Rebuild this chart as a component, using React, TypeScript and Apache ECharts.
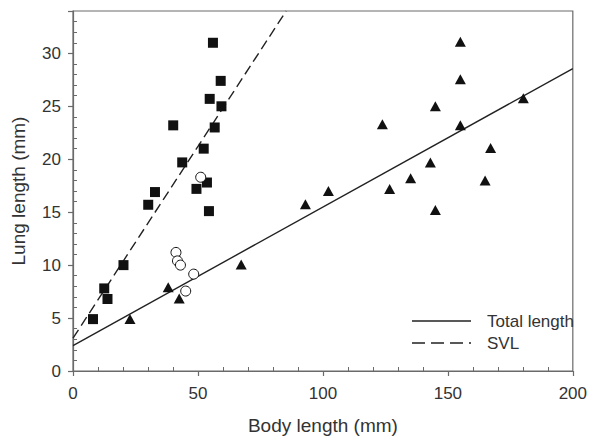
import React, { useEffect, useRef } from "react";
import * as echarts from "echarts";

// Data
const svlPoints: number[][] = [
  [56.0, 31.0], [59.1, 27.4], [54.7, 25.7], [59.4, 25.0], [40.1, 23.2],
  [56.7, 23.0], [52.3, 21.0], [43.7, 19.7], [53.6, 17.8], [49.4, 17.2],
  [32.8, 16.9], [30.1, 15.7], [54.4, 15.1], [20.2, 10.0], [12.5, 7.8],
  [13.8, 6.8], [8.0, 4.9],
];
const openPoints: number[][] = [
  [51.1, 18.3], [41.2, 11.2], [41.8, 10.4], [43.0, 10.0], [48.3, 9.15], [45.1, 7.55],
];
const totalPoints: number[][] = [
  [22.8, 4.9], [38.1, 7.9], [42.5, 6.85], [67.3, 10.05], [93.0, 15.75],
  [102.2, 17.0], [123.8, 23.3], [126.7, 17.2], [135.1, 18.2], [143.0, 19.7],
  [145.0, 25.0], [145.0, 15.2], [155.0, 31.1], [155.0, 27.55], [155.0, 23.2],
  [164.9, 18.0], [167.1, 21.05], [180.2, 25.75],
];
const totalFit: number[][] = [[0, 2.4], [200, 28.56]];
const svlFit: number[][] = [[0, 3.1], [85.3, 34]];

const xStep = 50;
const yStep = 5;
const yMax = 34;

const legendNames = ["Total length", "SVL"];

const FONT = "'Liberation Sans', Arial, sans-serif";
const AXIS = "#6a6a6a";
const TEXT = "#333";
const INK = "#111";

export default function App() {
  const ref = useRef<HTMLDivElement>(null);
  useEffect(() => {
    if (!ref.current) return;
    const chart = echarts.init(ref.current, null, { renderer: "svg" });
    const L = 73, R = 574, T = 11, B = 373;
    chart.setOption({
      animation: false,
      backgroundColor: "#fff",
      grid: {
        left: L, right: 590 - R, top: T, bottom: 440 - B,
        show: true, borderColor: AXIS, borderWidth: 1.2, backgroundColor: "transparent",
      },
      xAxis: {
        type: "value", min: 0, max: 200, interval: xStep, position: "bottom",
        name: "Body length (mm)", nameLocation: "middle", nameGap: 45,
        nameTextStyle: { fontSize: 19, color: TEXT, fontFamily: FONT },
        axisLine: { show: true, lineStyle: { color: AXIS, width: 1.2 } },
        axisTick: { show: true, length: 5, lineStyle: { color: AXIS, width: 1.2 } },
        minorTick: { show: true, splitNumber: 5, length: -4, lineStyle: { color: AXIS, width: 1 } },
        axisLabel: { fontSize: 17, color: TEXT, fontFamily: FONT, margin: 14 },
        splitLine: { show: false },
        minorSplitLine: { show: false },
      },
      yAxis: {
        type: "value", min: 0, max: yMax, interval: yStep, position: "left",
        name: "Lung length (mm)", nameLocation: "middle", nameGap: 45,
        nameTextStyle: { fontSize: 19, color: TEXT, fontFamily: FONT },
        axisLine: { show: true, lineStyle: { color: AXIS, width: 1.2 } },
        axisTick: { show: true, length: 5, lineStyle: { color: AXIS, width: 1.2 } },
        minorTick: { show: true, splitNumber: 5, length: -4, lineStyle: { color: AXIS, width: 1 } },
        axisLabel: { fontSize: 17, color: TEXT, fontFamily: FONT, margin: 12, showMaxLabel: false },
        splitLine: { show: false },
        minorSplitLine: { show: false },
      },
      series: [
        {
          name: legendNames[0], type: "line", data: totalFit, symbol: "none", clip: true, z: 1,
          lineStyle: { color: "#222", width: 1.4 },
        },
        {
          name: legendNames[1], type: "line", data: svlFit, symbol: "none", clip: true, z: 1,
          lineStyle: { color: "#222", width: 1.4, type: [10, 5] },
        },
        {
          type: "scatter", data: svlPoints, symbol: "rect", symbolSize: 10, z: 3,
          itemStyle: { color: INK, opacity: 1 },
        },
        {
          type: "scatter", data: totalPoints, symbol: "triangle", symbolSize: [11, 10], z: 3,
          itemStyle: { color: INK, opacity: 1 },
        },
        {
          type: "scatter", data: openPoints, symbol: "circle", symbolSize: 10, z: 3,
          itemStyle: { color: "#fff", borderColor: INK, borderWidth: 1, opacity: 1 },
        },
      ],
      graphic: [
        {
          type: "line", shape: { x1: 412, y1: 321, x2: 471, y2: 321 },
          style: { stroke: "#222", lineWidth: 1.4 },
        },
        {
          type: "line", shape: { x1: 412, y1: 343, x2: 471, y2: 343 },
          style: { stroke: "#222", lineWidth: 1.4, lineDash: [13, 6] },
        },
        {
          type: "text", x: 487, y: 321,
          style: { text: legendNames[0], fontSize: 17, fill: TEXT, fontFamily: FONT, textVerticalAlign: "middle" },
        },
        {
          type: "text", x: 487, y: 343,
          style: { text: legendNames[1], fontSize: 17, fill: TEXT, fontFamily: FONT, textVerticalAlign: "middle" },
        },
      ],
    });
    return () => chart.dispose();
  }, []);
  return <div ref={ref} style={{ width: 590, height: 440, position: "absolute", left: 0, top: 0 }} />;
}
